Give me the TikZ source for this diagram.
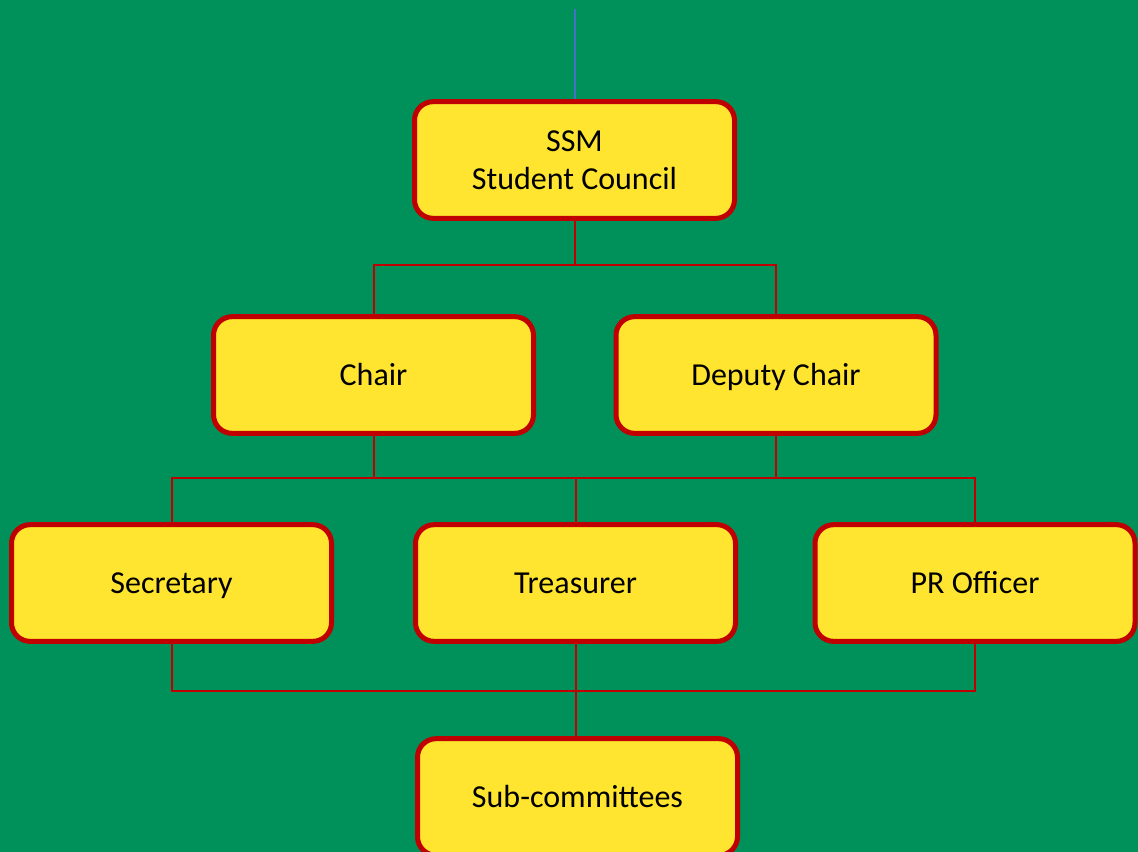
\documentclass[tikz,border=0pt]{standalone}
\usepackage{fontspec}
\setmainfont{Carlito}
\definecolor{bggreen}{HTML}{00905A}
\definecolor{boxyellow}{HTML}{FFE52F}
\definecolor{boxred}{HTML}{C00000}
\definecolor{topblue}{HTML}{4472C4}
\begin{document}
\begin{tikzpicture}[x=0.75pt,y=-0.75pt,
  orgbox/.style={draw=boxred, fill=boxyellow, line width=3.75pt, rounded corners=14pt,
    minimum width=240pt, minimum height=87.5pt, align=center, inner sep=0pt,
    font=\fontsize{24}{28.5}\selectfont},
  oneline/.style={orgbox, text height=15.5pt, text depth=0pt},
  link/.style={draw=boxred, line width=1.5pt}]
\fill[bggreen] (0,0) rectangle (1138,852);
\useasboundingbox (0,0) rectangle (1138,852);
\node[orgbox] (ssm) at (574.5,160) {SSM\\Student Council};
\node[oneline] (chair) at (373.5,375) {Chair};
\node[oneline] (deputy) at (776,375) {Deputy Chair};
\node[oneline] (sec) at (171.5,583) {Secretary};
\node[oneline] (tre) at (575.5,583) {Treasurer};
\node[oneline] (pr) at (975,583) {PR Officer};
\node[oneline] (sub) at (577.5,797) {Sub-committees};
\coordinate (top) at (574.5,9);
\draw[topblue, line width=1.5pt] (top) -- (ssm.north);
\draw[link] (ssm.south) -- ++(0,44) -| (chair.north);
\draw[link] (ssm.south) ++(0,44) -| (deputy.north);
\draw[link] (chair.south) -- ++(0,42) -| (sec.north);
\draw[link] (chair.south) ++(0,42) -| (tre.north);
\draw[link] (deputy.south) -- ++(0,42) -| (pr.north);
\draw[link] (deputy.south) ++(0,42) -- ++(-201,0);
\draw[link] (sec.south) -- ++(0,47) -| (pr.south);
\draw[link] (tre.south) -- (tre.south |- sub.north);
\end{tikzpicture}
\end{document}
